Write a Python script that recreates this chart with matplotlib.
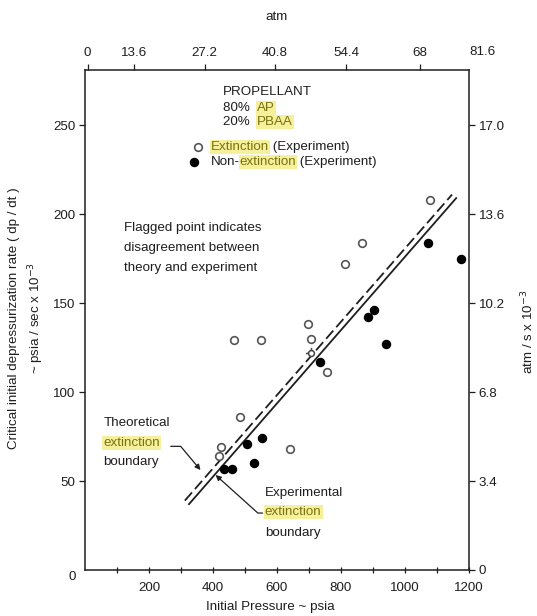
import matplotlib
matplotlib.use("Agg")
import matplotlib.pyplot as plt
from matplotlib.path import Path
import numpy as np

plt.rcParams['font.family'] = ['Liberation Sans', 'DejaVu Sans']

# Extinction (Experiment) - open circles: initial pressure (psia), rate (psia/sec x 10^-3)
ext_p = [1078, 866, 814, 697, 705, 466, 550, 757, 485, 424, 419, 642]
ext_r = [208, 184, 172, 138, 130, 129, 129, 111, 86, 69, 64, 68]

# Non-extinction (Experiment) - filled circles
non_p = [1071, 1175, 904, 883, 942, 733, 552, 506, 529, 435, 459]
non_r = [184, 175, 146, 142, 127, 117, 74, 71, 60, 57, 57]

# flagged point (disagreement theory / experiment)
flag_p = [707]
flag_r = [122]

# extinction boundaries (end points)
theory_p = [312, 1147]
theory_r = [39, 211]
exper_p = [325, 1160]
exper_r = [37, 209]

bottom_ticks = [200, 400, 600, 800, 1000, 1200]
left_ticks = [50, 100, 150, 200, 250]
right_ticks = [0, 3.4, 6.8, 10.2, 13.6, 17.0]
top_labels = ['0', '13.6', '27.2', '40.8', '54.4', '68']
top_pos = [8, 154, 374, 594, 817, 1046]   # where the atm ticks sit on the psia scale

W, H = 537, 616
ink = '#1e1e1e'
hl_text = '#77740f'
hl_fill = '#f6f09c'
fs = 9.6

fig = plt.figure(figsize=(W / 100, H / 100), dpi=100)
ax = fig.add_axes([85 / W, 1 - 570 / H, 384 / W, 500 / H])
ax.set_xlim(0, 1200)
ax.set_ylim(0, 281)

for s in ax.spines.values():
    s.set_linewidth(1.1)
    s.set_color(ink)

# bottom axis
ax.set_xticks(bottom_ticks)
ax.set_xticks([100, 300, 500, 700, 900, 1100], minor=True)
ax.tick_params(axis='x', which='both', direction='inout', length=5, width=0.9,
               labelsize=fs, labelcolor=ink, color=ink, pad=6)
# left axis
ax.set_yticks(left_ticks)
ax.tick_params(axis='y', direction='out', length=4, width=0.9,
               labelsize=fs, labelcolor=ink, color=ink, pad=3)
ax.annotate('0', xy=(0, 0), xycoords='data', xytext=(-9.5, -5),
            textcoords='offset points', ha='center', va='center',
            fontsize=fs, color=ink, annotation_clip=False)

# right axis: atm/s x 10^-3
axr = ax.twinx()
axr.set_ylim(0, 281 / 14.7)
axr.set_yticks(right_ticks)
axr.set_yticklabels(['0', '3.4', '6.8', '10.2', '13.6', '17.0'])
axr.tick_params(axis='y', direction='out', length=4, width=0.9,
                labelsize=fs, labelcolor=ink, color=ink, pad=3)
for s in axr.spines.values():
    s.set_visible(False)

# top axis: atm
axt = ax.twiny()
axt.set_xlim(0, 1200)
axt.set_xticks(top_pos)
axt.set_xticklabels(top_labels)
axt.tick_params(axis='x', direction='out', length=4, width=0.9,
                labelsize=fs, labelcolor=ink, color=ink, pad=4)
for s in axt.spines.values():
    s.set_visible(False)
ax.annotate('81.6', xy=(1, 1), xycoords='axes fraction', xytext=(10, 13),
            textcoords='offset points', ha='center', va='center',
            fontsize=fs, color=ink, annotation_clip=False)

# boundary lines
ax.plot(theory_p, theory_r, color=ink, lw=1.3, ls=(0, (6, 2.5)))
ax.plot(exper_p, exper_r, color=ink, lw=1.3)

# data points
ax.plot(ext_p, ext_r, 'o', ms=5.5, mfc='white', mec='#555555', mew=1.2, zorder=5)
ax.plot(non_p, non_r, 'o', ms=5.8, mfc='black', mec='black', zorder=5)

circ = Path.unit_circle()
flag_verts = list(circ.vertices) + [(-1.0, 0.0), (-1.9, 0.0), (0.0, 1.0), (0.0, 1.9)]
flag_codes = list(circ.codes) + [Path.MOVETO, Path.LINETO, Path.MOVETO, Path.LINETO]
flag_marker = Path(flag_verts, flag_codes)
ax.plot(flag_p, flag_r, marker=flag_marker, ls='none', ms=8, mfc='white',
        mec='#444444', mew=1.1, zorder=6)


def text_line(x, y, parts):
    """Write a line of text made of plain and highlighted pieces."""
    t = None
    for s, hl in parts:
        kw = dict(fontsize=fs, color=hl_text if hl else ink)
        if hl:
            kw['bbox'] = dict(boxstyle='square,pad=0.08', fc=hl_fill, ec='none')
        if t is None:
            t = ax.text(x, y, s, ha='left', va='center', **kw)
        else:
            t = ax.annotate(s, xy=(1, 0), xycoords=t, ha='left', va='bottom', **kw)
    return t


# propellant box
text_line(430, 268.5, [('PROPELLANT', False)])
text_line(430, 259.6, [('80%  ', False), ('AP', True)])
text_line(430, 251.7, [('20%  ', False), ('PBAA', True)])

# legend
ax.plot([352], [237.6], 'o', ms=5.5, mfc='white', mec='#555555', mew=1.2)
ax.plot([340], [229.2], 'o', ms=5.8, mfc='black', mec='black')
text_line(393, 237.6, [('Extinction', True), (' (Experiment)', False)])
text_line(393, 229.2, [('Non-', False), ('extinction', True), (' (Experiment)', False)])

# flagged note
text_line(122, 192.1, [('Flagged point indicates', False)])
text_line(122, 180.9, [('disagreement between', False)])
text_line(122, 169.7, [('theory and experiment', False)])

# boundary callouts
text_line(57, 82.6, [('Theoretical', False)])
text_line(57, 71.3, [('extinction', True)])
text_line(57, 60.7, [('boundary', False)])
text_line(562, 43.3, [('Experimental', False)])
text_line(562, 32.6, [('extinction', True)])
text_line(562, 20.8, [('boundary', False)])

arrow = dict(arrowstyle='-|>', color=ink, lw=0.9, mutation_scale=8,
             shrinkA=0, shrinkB=0)
ax.annotate('', xy=(361, 56.2), xytext=(268, 69.5),
            arrowprops=dict(connectionstyle='angle,angleA=0,angleB=-50,rad=0', **arrow))
ax.annotate('', xy=(408, 53.4), xytext=(555, 32.0),
            arrowprops=dict(connectionstyle='angle,angleA=0,angleB=-42,rad=0', **arrow))

# axis titles
fig.text(277 / W, 1 - 17 / H, 'atm', ha='center', va='center', fontsize=fs, color=ink)
fig.text(270 / W, 1 - 607 / H, 'Initial Pressure ~ psia', ha='center', va='center',
         fontsize=fs, color=ink)
fig.text(27 / W, 1 - 318 / H,
         'Critical initial depressurization rate ( dp / dt )\n~ psia / sec x 10$^{-3}$',
         rotation=90, ha='center', va='center', multialignment='center',
         fontsize=fs, color=ink, linespacing=1.4)
fig.text(528 / W, 1 - 332 / H, 'atm / s x 10$^{-3}$', rotation=90,
         ha='center', va='center', fontsize=fs, color=ink)

fig.savefig('out.png', dpi=100)
